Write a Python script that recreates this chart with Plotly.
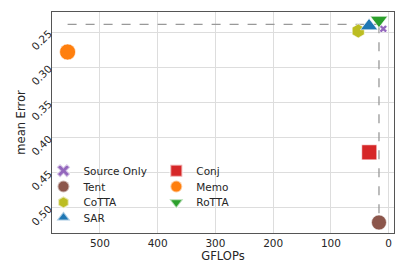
import plotly.graph_objects as go

methods = ["Source Only", "Tent", "CoTTA", "SAR", "Conj", "Memo", "RoTTA"]
gflops = [9.3, 16.8, 52.7, 34.0, 33.6, 556.0, 16.8]
mean_error = [0.245, 0.521, 0.248, 0.241, 0.421, 0.278, 0.2325]
colors = ["#9467bd", "#8c564b", "#bcbd22", "#1f77b4", "#d62728", "#ff7f0e", "#2ca02c"]
symbols = ["x", "circle", "hexagon", "triangle-up", "square", "circle", "triangle-down"]
sizes = [7, 15, 14, 15, 15, 16, 15]

# Dashed reference lines
hline_x = [556.0, 16.8]
hline_y = [0.2386, 0.2386]
vline_x = [16.8, 16.8]
vline_y = [0.2386, 0.521]

x_ticks = [500, 400, 300, 200, 100, 0]
y_ticks = [0.25, 0.30, 0.35, 0.40, 0.45, 0.50]

# legend layout: (column x, row y) in paper coords, one legend per entry
legend_x = [-0.025, -0.025, -0.025, -0.025, 0.305, 0.305, 0.305]
legend_y = [0.282, 0.210, 0.139, 0.070, 0.282, 0.210, 0.139]

fig = go.Figure()
fig.add_trace(go.Scatter(x=hline_x, y=hline_y, mode="lines",
                         line=dict(color="#999999", width=1.3, dash="dash"),
                         showlegend=False, hoverinfo="skip"))
fig.add_trace(go.Scatter(x=vline_x, y=vline_y, mode="lines",
                         line=dict(color="#999999", width=1.3, dash="dash"),
                         showlegend=False, hoverinfo="skip"))

font = dict(family="DejaVu Sans", size=10.5, color="#262626")
legends = {}
for i, (m, gx, gy, c, s, sz) in enumerate(zip(methods, gflops, mean_error, colors, symbols, sizes)):
    lname = "legend" if i == 0 else f"legend{i+1}"
    fig.add_trace(go.Scatter(
        x=[gx], y=[gy], mode="markers", name=m, legend=lname,
        marker=dict(color=c, symbol=s, size=sz, line=dict(color="rgba(255,255,255,0.6)", width=1)),
    ))
    legends[lname] = dict(x=legend_x[i], y=legend_y[i], xanchor="left", yanchor="middle",
                          bgcolor="rgba(0,0,0,0)", itemsizing="constant", itemwidth=30,
                          font=font)

# the page body adds an 8px offset; the figure size/margins compensate for it
fig.update_layout(
    width=399, height=263,
    margin=dict(l=44, r=13, t=4, b=38),
    paper_bgcolor="white", plot_bgcolor="white",
    font=font,
    **legends,
)
fig.update_xaxes(range=[583, -9.2], tickvals=x_ticks, showgrid=True, gridcolor="#dddddd",
                 zeroline=False, showline=True, linecolor="#555555", linewidth=1, mirror=True,
                 ticks="", automargin=False,
                 title=dict(text="GFLOPs", standoff=0, font=dict(size=11.5)))
fig.update_yaxes(range=[0.536, 0.221], tickvals=y_ticks, tickformat=".2f", tickangle=-45,
                 showgrid=True, gridcolor="#dddddd",
                 zeroline=False, showline=True, linecolor="#555555", linewidth=1, mirror=True,
                 ticks="", automargin=False,
                 title=dict(text="mean Error", standoff=0, font=dict(size=11.5)))

fig.write_html("out.html")
